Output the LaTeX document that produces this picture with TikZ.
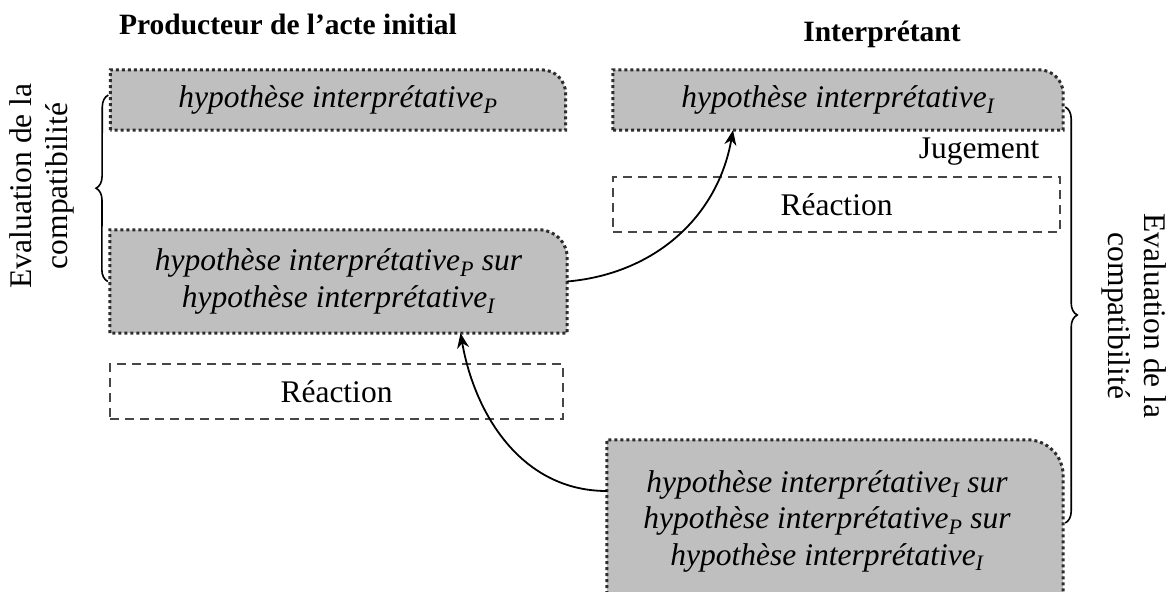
\documentclass[tikz,border=0pt]{standalone}
\usepackage{fontspec}
\setmainfont{Liberation Serif}
\usetikzlibrary{arrows.meta,decorations.pathreplacing}

\definecolor{boxgray}{RGB}{191,191,191}
\definecolor{rimgray}{RGB}{45,45,45}
\definecolor{dashgray}{RGB}{70,70,70}

\begin{document}
\begin{tikzpicture}[x=1pt,y=-1pt,
  txt/.style={font=\fontsize{31.5}{36.5}\selectfont, align=center},
  hypbox/.style={txt, font=\fontsize{31.5}{36.5}\selectfont\itshape, inner sep=0pt},
  frame/.style={fill=boxgray, draw=rimgray, line width=3pt, dash pattern=on 3pt off 3pt},
  reacbox/.style={txt, draw=dashgray, line width=1.4pt, dash pattern=on 9pt off 6pt, inner sep=0pt},
  titlenode/.style={font=\fontsize{29.5}{35}\selectfont\bfseries, anchor=base},
  arr/.style={line width=1.8pt, -{Stealth[length=15pt,width=12pt]}},
  brc/.style={line width=1.6pt, decorate, decoration={brace, amplitude=12pt}}
]
\clip (0,0) rectangle (1176,592);

% titles
\node[titlenode] (tp) at (288,34) {Producteur de l’acte initial};
\node[titlenode] (ti) at (882,41) {Interprétant};

% hypothesis boxes (frames drawn below)
\node[hypbox, minimum width=455pt, minimum height=60pt] (b1) at (338,100) {};
\node[hypbox, minimum width=450pt, minimum height=60pt] (b2) at (838,100) {};
\node[hypbox, minimum width=457pt, minimum height=103pt] (b3) at (338.5,281.5) {};
\node[hypbox, minimum width=456pt, minimum height=142pt] (b4) at (835,511) {};

% frames with a single rounded corner at the top right
\foreach \n/\r in {b1/24,b2/24,b3/28} {
  \path[frame] (\n.south west) -- (\n.north west)
    -- ([xshift={-\r*1pt}]\n.north east)
    .. controls ([xshift={-0.448*\r*1pt}]\n.north east) and ([yshift={-0.448*\r*1pt}]\n.north east)
    .. ([yshift={-\r*1pt}]\n.north east)
    -- (\n.south east) -- cycle;
}
\path[frame] ([yshift=-30pt]b4.south west) -- (b4.north west)
  -- ([xshift=-36pt]b4.north east)
  .. controls ([xshift=-16pt]b4.north east) and ([yshift=-16pt]b4.north east)
  .. ([yshift=-36pt]b4.north east)
  -- ([yshift=-30pt]b4.south east) -- cycle;

% box texts
\node[hypbox] at (b1.center) {hypothèse interprétative\textsubscript{P}};
\node[hypbox] at (b2.center) {hypothèse interprétative\textsubscript{I}};
\node[hypbox] at (b3.center) {hypothèse interprétative\textsubscript{P} sur\\hypothèse interprétative\textsubscript{I}};
\node[hypbox] at ([xshift=-8pt,yshift=-10pt]b4.center) {hypothèse interprétative\textsubscript{I} sur\\hypothèse interprétative\textsubscript{P} sur\\hypothèse interprétative\textsubscript{I}};

% reaction boxes
\node[reacbox, minimum width=453pt, minimum height=55pt] (r1) at (336.5,391.5) {Réaction};
\node[reacbox, minimum width=447pt, minimum height=55pt] (r2) at (836.5,204.5) {Réaction};

% judgement label
\node[txt, anchor=base east] (jug) at (1043,158) {Jugement};

% arrows
\draw[arr] (b3.east) to[out=5,in=-100] ([xshift=-105pt]b2.south);
\draw[arr] ([yshift=20pt]b4.west) to[out=180,in=-80] ([xshift=122pt]b3.south);

% braces
\draw[brc] ([xshift=-2pt]b3.west) -- ([xshift=-2pt,yshift=5pt]b1.west);
\draw[brc] ([xshift=2pt,yshift=-7pt]b2.east) -- ([xshift=2pt,yshift=-12pt]b4.east);

% compatibility labels
\node[txt, rotate=90] (ev1) at (42,186) {Evaluation de la\\compatibilité};
\node[txt, rotate=-90] (ev2) at (1134,316) {Evaluation de la\\compatibilité};
\end{tikzpicture}
\end{document}
